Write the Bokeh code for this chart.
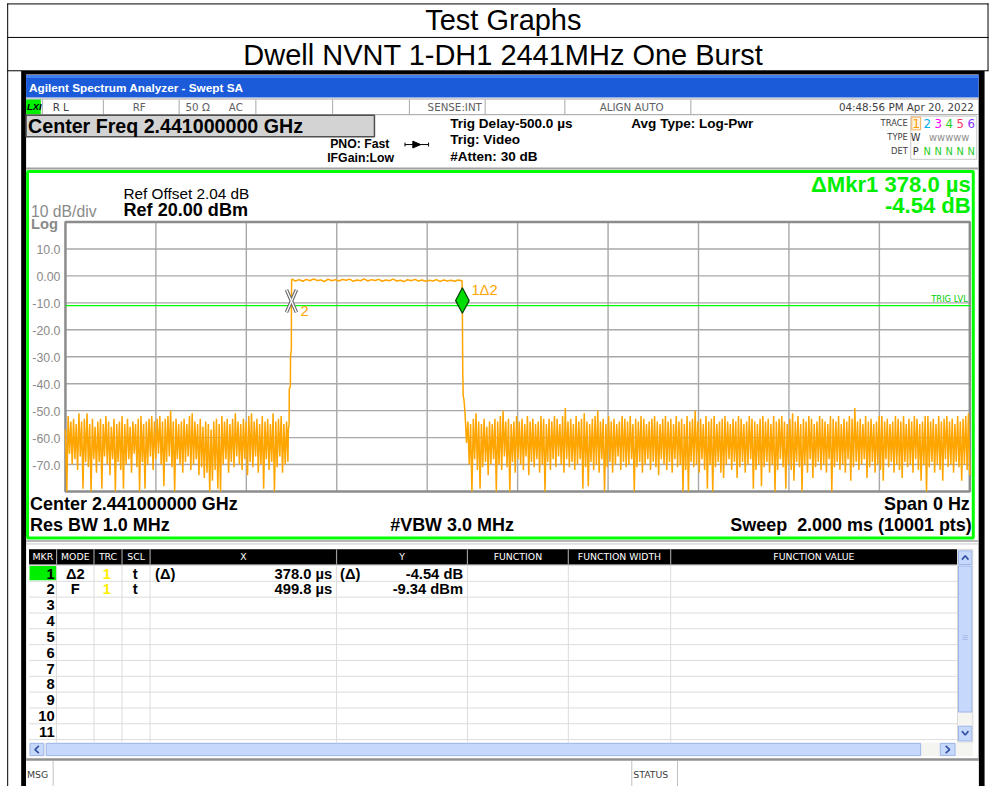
import numpy as np
from bokeh.plotting import figure
from bokeh.models import Range1d
from bokeh.core.properties import value
from bokeh.embed import file_html
from bokeh.resources import INLINE

# ------------------------------------------------------------------ data
PAGE_TITLE = "Test Graphs"
CHART_TITLE = "Dwell NVNT 1-DH1 2441MHz One Burst"

sweep_range_us = [0.0, 2000.0]
level_range_dbm = [-80.0, 20.0]
x_grid_us = [0, 200, 400, 600, 800, 1000, 1200, 1400, 1600, 1800, 2000]
y_grid_dbm = [20, 10, 0, -10, -20, -30, -40, -50, -60, -70, -80]
y_tick_dbm = [10, 0, -10, -20, -30, -40, -50, -60, -70]
y_tick_labels = ["10.0", "0.00", "-10.0", "-20.0", "-30.0", "-40.0", "-50.0", "-60.0", "-70.0"]
trig_level_dbm = -11.0

# noise before the burst (peak / valley per sweep column)
noise_left_span_us = [0.0, 489.0]
noise_left_hi = [-57, -52, -54, -53, -55, -51, -54, -53, -51, -55, -53, -56, -54, -53, -55, -52, -54, -56, -53, -55,
                 -54, -52, -55, -53, -56, -54, -55, -53, -52, -55, -54, -53, -52, -54, -53, -52, -54, -53, -52, -50,
                 -54, -53, -55, -54, -53, -55, -52, -51, -54, -55, -53, -56, -54, -55, -57, -54, -53, -55, -52, -54,
                 -53, -55, -53, -51, -54, -55, -53, -54, -52, -51, -54, -53, -55, -52, -54, -53, -55, -51, -54, -53,
                 -52, -55, -54]
noise_left_lo = [-80, -66, -70, -68, -72, -67, -79, -69, -71, -80, -68, -73, -69, -79, -67, -70, -74, -68, -80, -69,
                 -72, -79, -70, -68, -73, -66, -71, -80, -69, -79, -70, -67, -72, -68, -66, -70, -78, -69, -67, -71,
                 -80, -68, -70, -73, -69, -67, -72, -70, -68, -74, -71, -75, -73, -80, -76, -72, -79, -80, -70, -68,
                 -73, -69, -71, -67, -70, -72, -68, -74, -69, -71, -67, -73, -70, -79, -68, -72, -69, -80, -71, -67,
                 -73, -70, -69]

# rising edge, burst plateau, falling edge
rise_us = [493.0, 494.6, 495.0, 497.4, 497.8, 499.6, 499.8, 500.2]
rise_dbm = [-57, -55, -42, -41, -30, -27, -9.34, -1.5]
plateau_span_us = [500.8, 876.6]
plateau_dbm = [-1.2, -1.9, -1.4, -2.0, -1.3, -1.8, -1.1, -1.7, -1.5, -2.1, -1.2, -1.8, -1.4, -1.9, -1.3, -1.6,
               -1.2, -2.0, -1.5, -1.8, -1.1, -1.9, -1.4, -1.7, -1.3, -2.0, -1.5, -1.8, -1.2, -1.9, -1.6, -2.1,
               -1.4, -1.8, -1.3, -1.9, -1.5, -2.0, -1.6, -1.9, -1.4, -2.1, -1.5, -1.9, -1.6, -2.0, -1.5, -1.8]
fall_us = [877.0, 877.8, 878.6, 879.6, 881.0, 882.6]
fall_dbm = [-1.6, -13.88, -35, -44.7, -45.5, -48.4]

# noise after the burst
noise_right_span_us = [884.0, 1997.0]
noise_right_hi = [-52, -54, -55, -53, -51, -54, -55, -53, -56, -54,
                  -55, -53, -54, -52, -50, -54, -53, -55, -54, -52,
                  -54, -53, -55, -52, -54, -53, -55, -54, -52, -53,
                  -55, -53, -54, -52, -53, -55, -52, -49, -54, -53,
                  -55, -52, -54, -53, -51, -54, -55, -53, -52, -50,
                  -54, -53, -55, -52, -54, -53, -55, -54, -52, -53,
                  -54, -52, -55, -53, -54, -52, -53, -55, -54, -53,
                  -52, -54, -55, -53, -52, -54, -53, -55, -52, -54,
                  -53, -55, -52, -54, -53, -50, -54, -53, -55, -52,
                  -54, -53, -52, -55, -54, -53, -52, -54, -55, -53,
                  -54, -52, -53, -55, -54, -52, -53, -54, -55, -53,
                  -52, -54, -53, -55, -52, -54, -53, -52, -54, -55,
                  -53, -51, -54, -52, -55, -53, -54, -52, -53, -55,
                  -54, -52, -53, -54, -55, -52, -53, -54, -52, -55,
                  -53, -54, -52, -53, -49, -54, -53, -55, -52, -54,
                  -53, -55, -54, -52, -52, -54, -53, -55, -54, -52,
                  -53, -54, -52, -55, -53, -54, -52, -53, -55, -54,
                  -52, -52, -54, -53, -55, -52, -54, -53, -52, -54,
                  -53, -55, -52, -54, -53, -52, -51]
noise_right_lo = [-62, -70, -80, -68, -72, -79, -71, -69, -74, -70,
                  -68, -80, -70, -72, -67, -71, -80, -69, -73, -68,
                  -70, -72, -67, -74, -69, -71, -68, -73, -70, -80,
                  -69, -72, -68, -71, -67, -70, -73, -68, -71, -69,
                  -72, -70, -68, -79, -71, -78, -69, -72, -70, -73,
                  -68, -80, -71, -69, -73, -70, -67, -72, -69, -71,
                  -70, -68, -80, -71, -69, -73, -70, -68, -72, -69,
                  -71, -74, -68, -70, -72, -69, -73, -68, -71, -70,
                  -80, -72, -80, -69, -71, -70, -73, -68, -72, -79,
                  -70, -80, -71, -69, -73, -75, -70, -68, -72, -69,
                  -75, -71, -69, -73, -70, -68, -79, -72, -70, -78,
                  -71, -69, -73, -70, -80, -72, -68, -71, -79, -70,
                  -72, -76, -69, -71, -80, -70, -73, -68, -75, -71,
                  -69, -72, -70, -73, -68, -80, -71, -69, -72, -70,
                  -73, -68, -76, -71, -69, -72, -70, -68, -75, -71,
                  -69, -73, -70, -72, -76, -68, -71, -69, -73, -70,
                  -72, -75, -69, -71, -70, -73, -68, -72, -76, -70,
                  -80, -71, -69, -73, -70, -72, -76, -68, -71, -70,
                  -73, -69, -71, -76, -70, -72, -74]

marker2_us, marker2_dbm = 499.8, -9.34
marker1_us, marker1_dbm = 877.8, -13.88

status_labels = ["R L", "RF", "50 \u03a9", "AC", "SENSE:INT", "ALIGN AUTO"]
timestamp = "04:48:56 PM Apr 20, 2022"
table_headers = ["MKR", "MODE", "TRC", "SCL", "X", "Y", "FUNCTION", "FUNCTION WIDTH", "FUNCTION VALUE"]
mkr_numbers = [str(i) for i in range(1, 12)]
mkr_mode = ["\u03942", "F"]
mkr_trc = ["1", "1"]
mkr_scl = ["t", "t"]
mkr_x_prefix = ["(\u0394)", ""]
mkr_x = ["378.0 \u00b5s", "499.8 \u00b5s"]
mkr_y_prefix = ["(\u0394)", ""]
mkr_y = ["-4.54 dB", "-9.34 dBm"]

# ------------------------------------------------------------------ canvas
W, H = 989, 786
FS = 0.982  # canvas / page scale for font sizes
p = figure(width=W, height=H, x_range=Range1d(0, 1005), y_range=Range1d(802, 0),
           output_backend="svg", toolbar_location=None, min_border=0,
           x_axis_location=None, y_axis_location=None)
p.grid.visible = False
p.outline_line_color = None
p.background_fill_color = "white"
p.border_fill_color = "white"

ARIAL = "Liberation Sans"
DV = "DejaVu Sans"


def T(x, y, s, size, color="black", bold=False, align="left", font=ARIAL, style=None):
    st = style if style else ("bold" if bold else "normal")
    p.text(x=[x], y=[y], text=[s], text_font=value(font), text_font_size=value(f"{size * FS:.2f}px"),
           text_color=color, text_align=align, text_baseline="middle", text_font_style=st)


def R(l, r, t, b, fill, line=None, lw=1.0):
    p.quad(left=[l], right=[r], top=[t], bottom=[b], fill_color=fill,
           line_color=line, line_width=lw)


def L(x0, y0, x1, y1, color, lw=1.0):
    p.segment(x0=[x0], y0=[y0], x1=[x1], y1=[y1], line_color=color, line_width=lw)


# page table
L(7, 3.5, 1004, 3.5, "black", 1)
L(7, 37.7, 1004, 37.7, "black", 1)
L(7, 71.7, 1004, 71.7, "black", 1)
L(7.3, 3, 7.3, 802, "black", 1)
L(1003.5, 3, 1003.5, 72, "black", 1)
T(511, 20.2, PAGE_TITLE, 29.5, align="center")
T(511, 55.2, CHART_TITLE, 29.5, align="center")

# screenshot frame
R(21, 1000, 72, 802, "black", None)
R(26, 994, 75.5, 802, "white", None)

# title bar
R(26, 994, 76, 99, "#1b5bd9", None)
R(26, 994, 76, 79, "#3f7ff0", None)
T(29, 88.7, "Agilent Spectrum Analyzer - Swept SA", 12, "white", bold=True)

# status row
L(26, 100.5, 994, 100.5, "#a0a0a0", 1)
L(26, 116.5, 994, 116.5, "#a0a0a0", 1)
R(26, 41, 101, 116, "#00ee00", None)
T(27, 108.3, "LXI", 9.5, "black", style="bold italic")
for xd in [42, 104, 181, 259, 337, 415, 492, 573, 701]:
    L(xd + 0.5, 101, xd + 0.5, 116, "#a8a8a8", 1)
T(53, 108.3, status_labels[0], 10.5, "#404040", font=DV)
T(141, 108.3, status_labels[1], 10.5, "#606060", font=DV, align="center")
T(188, 108.3, status_labels[2], 10.5, "#606060", font=DV)
T(232, 108.3, status_labels[3], 10.5, "#606060", font=DV)
T(434, 108.3, status_labels[4], 10.5, "#606060", font=DV)
T(609, 108.3, status_labels[5], 10.5, "#606060", font=DV)
T(989, 108.3, timestamp, 10.5, "#404040", font=DV, align="right")

# center freq box and settings
R(26, 380, 117, 139, "#d3d3d3", "#505050", 1.5)
T(28, 128, "Center Freq 2.441000000 GHz", 20, bold=True)
T(335, 146.7, "PNO: Fast", 12.5, bold=True)
T(332, 160.7, "IFGain:Low", 12.5, bold=True)
L(411, 147, 435, 147, "black", 1)
L(411, 145, 411, 149, "black", 1)
L(435, 145, 435, 149, "black", 1)
p.patch(x=[419, 427, 419], y=[143.5, 147, 150.5], fill_color="black", line_color="black")
T(457, 126, "Trig Delay-500.0 \u00b5s", 13.8, bold=True)
T(457, 142.3, "Trig: Video", 13.8, bold=True)
T(457, 158.7, "#Atten: 30 dB", 13.8, bold=True)
T(641, 126, "Avg Type: Log-Pwr", 13.8, bold=True)

# trace legend block
T(922, 125.5, "TRACE", 8.5, "#404040", font=DV, align="right")
T(922, 139.3, "TYPE", 8.5, "#404040", font=DV, align="right")
T(922, 153.3, "DET", 8.5, "#404040", font=DV, align="right")
R(925, 992, 118, 162, "white", "#c8c8c8", 1)
R(926, 935, 119, 132, "#fff4e0", "#f0b060", 1)
trace_cols = ["#ff9900", "#00b0f0", "#ff00ff", "#22cc22", "#ff3366", "#8833ff"]
for i, c in enumerate(trace_cols):
    T(930.5 + 11.2 * i, 126, str(i + 1), 12, c, align="center", font=DV)
T(930, 140, "W", 10, "#303030", align="center", font=DV)
T(964, 140, "\u1d21\u1d21\u1d21\u1d21\u1d21", 10, "#909090", align="center", font=DV)
T(930, 154, "P", 10, "#303030", align="center", font=DV)
for i in range(5):
    T(941.7 + 11.2 * i, 154, "N", 10, "#22cc22", align="center", font=DV)

# display frame
L(26, 171.5, 994, 171.5, "#a0a0a0", 2)
R(27.5, 988.5, 174.5, 548.5, None, "#00ff00", 3)

T(125, 197.2, "Ref Offset 2.04 dB", 15.6)
T(125, 214, "Ref 20.00 dBm", 18.4, bold=True)
T(31, 215.7, "10 dB/div", 16, "#8a8a8a")
T(31, 228, "Log", 15, "#8a8a8a", bold=True)
T(986, 187.5, "\u0394Mkr1 378.0 \u00b5s", 22.5, "#00ee00", bold=True, align="right")
T(986, 209, "-4.54 dB", 22.5, "#00ee00", bold=True, align="right")

T(30, 514, "Center 2.441000000 GHz", 18.3, bold=True)
T(30, 535, "Res BW 1.0 MHz", 18.3, bold=True)
T(396, 535, "#VBW 3.0 MHz", 18.3, bold=True)
T(985, 514, "Span 0 Hz", 18.3, bold=True, align="right")
T(987, 535, "Sweep\u00a0 2.000 ms (10001 pts)", 18.3, bold=True, align="right")

# ------------------------------------------------------------------ trace area (data coordinates)
sub = p.subplot(x_source=Range1d(*sweep_range_us), y_source=Range1d(*level_range_dbm),
                x_target=Range1d(66, 985), y_target=Range1d(501, 226))

sub.segment(x0=x_grid_us[1:-1], y0=[level_range_dbm[0]] * 9, x1=x_grid_us[1:-1], y1=[level_range_dbm[1]] * 9,
            line_color="#a8a8a8", line_width=1.4)
sub.segment(x0=[sweep_range_us[0]] * 9, y0=y_grid_dbm[1:-1], x1=[sweep_range_us[1]] * 9, y1=y_grid_dbm[1:-1],
            line_color="#a8a8a8", line_width=1.4)
sub.quad(left=[sweep_range_us[0]], right=[sweep_range_us[1]], bottom=[level_range_dbm[0]], top=[level_range_dbm[1]],
         fill_color=None, line_color="#8c8c8c", line_width=2.5)
sub.text(x=[sweep_range_us[0]] * len(y_tick_dbm), y=y_tick_dbm, text=y_tick_labels, x_offset=-5, y_offset=0.5,
         text_align="right", text_baseline="middle", text_font=value(ARIAL),
         text_font_size=value(f"{12.6 * FS:.2f}px"), text_color="#8a8a8a")

# trigger level
sub.segment(x0=[sweep_range_us[0]], y0=[trig_level_dbm], x1=[sweep_range_us[1]], y1=[trig_level_dbm],
            line_color="#00ff00", line_width=1.2)
sub.text(x=[sweep_range_us[1]], y=[trig_level_dbm], text=["TRIG LVL"], x_offset=-2, y_offset=-6.3,
         text_align="right", text_baseline="middle", text_font=value(DV),
         text_font_size=value(f"{8.5 * FS:.2f}px"), text_color="#00cc00")


def zig(span, hi, lo, step=3.0):
    n = min(len(hi), len(lo))
    t = np.linspace(span[0], span[1], n)
    xs = np.empty(2 * n)
    ys = np.empty(2 * n)
    xs[0::2] = t
    xs[1::2] = t + step
    ys[0::2] = hi[:n]
    ys[1::2] = lo[:n]
    return xs, ys


xl, yl = zig(noise_left_span_us, noise_left_hi, noise_left_lo)
xr, yr = zig(noise_right_span_us, noise_right_hi, noise_right_lo)
tp = np.linspace(plateau_span_us[0], plateau_span_us[1], len(plateau_dbm))
trace_x = np.concatenate([xl, rise_us, tp, fall_us, xr])
trace_y = np.concatenate([yl, rise_dbm, plateau_dbm, fall_dbm, yr])
sub.line(x=trace_x, y=trace_y, line_color="#ffa500", line_width=1.5)

# marker 2 (fixed) : outlined X
dx, dy = 11.0, 4.2
sub.segment(x0=[marker2_us - dx, marker2_us - dx], y0=[marker2_dbm + dy, marker2_dbm - dy],
            x1=[marker2_us + dx, marker2_us + dx], y1=[marker2_dbm - dy, marker2_dbm + dy],
            line_color="#6a6a6a", line_width=3.6)
sub.segment(x0=[marker2_us - dx, marker2_us - dx], y0=[marker2_dbm + dy, marker2_dbm - dy],
            x1=[marker2_us + dx, marker2_us + dx], y1=[marker2_dbm - dy, marker2_dbm + dy],
            line_color="white", line_width=1.3)
sub.text(x=[marker2_us], y=[marker2_dbm], text=["2"], x_offset=9, y_offset=9.5, text_align="left",
         text_baseline="middle", text_font=value(ARIAL), text_font_size=value(f"{15 * FS:.2f}px"),
         text_color="#ffa500")

# marker 1 (delta) : green diamond above the point
sub.patch(x=[marker1_us, marker1_us + 15, marker1_us, marker1_us - 15],
          y=[marker1_dbm, marker1_dbm + 4.7, marker1_dbm + 9.45, marker1_dbm + 4.7],
          fill_color="#00dd00", line_color="#004400", line_width=1.2)
sub.text(x=[marker1_us], y=[marker1_dbm], text=["1\u03942"], x_offset=9, y_offset=-23.5, text_align="left",
         text_baseline="middle", text_font=value(ARIAL), text_font_size=value(f"{15 * FS:.2f}px"),
         text_color="#ffa500")

# ------------------------------------------------------------------ marker table
L(26, 551.5, 994, 551.5, "#a0a0a0", 1.5)
L(26, 554.5, 994, 554.5, "#c8c8c8", 1)
col_edges = [29, 57, 95, 123.5, 152, 341.5, 474.5, 577, 681, 972]
R(29, 972, 560, 575.5, "black", None)
row_top = 576.0
row_h = 16.15
for k in range(12):
    yk = row_top + row_h * k
    L(29, yk + 0.5, 972, yk + 0.5, "#dcdcdc", 1)
for xe in col_edges[1:-1]:
    L(xe, 576, xe, 757, "#dcdcdc", 1)
for xe in col_edges[1:-1]:
    L(xe, 560, xe, 575.5, "#9a9a9a", 1.2)
for i, h in enumerate(table_headers):
    cx = (col_edges[i] + col_edges[i + 1]) / 2
    T(cx, 567.5, h, 9.5, "white", align="center", font=DV)
R(29.5, 56.5, 577, 591.5, "#00ee00", None)
for k, s in enumerate(mkr_numbers):
    T(55, 584.7 + row_h * k, s, 15, bold=True, align="right")
for k in range(len(mkr_mode)):
    yb = 584.7 + row_h * k
    T(76, yb, mkr_mode[k], 15, bold=True, align="center")
    T(108, yb, mkr_trc[k], 15, "#ffee00", bold=True, align="center")
    T(137, yb, mkr_scl[k], 15, bold=True, align="center")
    if mkr_x_prefix[k]:
        T(157, yb, mkr_x_prefix[k], 15, bold=True)
    T(337, yb, mkr_x[k], 15, bold=True, align="right")
    if mkr_y_prefix[k]:
        T(345, yb, mkr_y_prefix[k], 15, bold=True)
    T(470, yb, mkr_y[k], 15, bold=True, align="right")

# vertical scrollbar
R(972.5, 988, 560, 757, "#f4f4f0", "#d8d8d8", 1)
R(973.5, 987, 561.5, 575.5, "#c6d8fb", "#9db6ea", 1)
R(973.5, 987, 577, 726, "#c6d8fb", "#9db6ea", 1)
R(973.5, 987, 740.5, 755.5, "#c6d8fb", "#9db6ea", 1)
p.line(x=[977, 980.3, 983.6], y=[570.5, 566.5, 570.5], line_color="#3050a0", line_width=1.6)
p.line(x=[977, 980.3, 983.6], y=[745.5, 749.5, 745.5], line_color="#3050a0", line_width=1.6)
for yy in [648, 650, 652]:
    L(977.5, yy, 983, yy, "#a8bde8", 1)

# horizontal scrollbar
R(29, 988, 757, 771, "#f4f4f0", None)
R(30, 44, 758, 770.5, "#c6d8fb", "#9db6ea", 1)
R(46.5, 935, 758, 770.5, "#c6d8fb", "#9db6ea", 1)
R(955, 970, 758, 770.5, "#c6d8fb", "#9db6ea", 1)
p.line(x=[39, 35, 39], y=[760.5, 764.3, 768], line_color="#3050a0", line_width=1.6)
p.line(x=[960.5, 964.5, 960.5], y=[760.5, 764.3, 768], line_color="#3050a0", line_width=1.6)

# message / status bar
L(26, 774.5, 994, 774.5, "#909090", 2.5)
R(26, 994, 776, 802, "white", None)
L(53.5, 776, 53.5, 802, "#c0c0c0", 1)
L(641.5, 776, 641.5, 802, "#c0c0c0", 1)
L(688, 776, 688, 802, "#c0c0c0", 1)
T(27, 789.4, "MSG", 9.5, "#404040", font=DV)
T(643, 789.4, "STATUS", 9.5, "#404040", font=DV)

open("out.html", "w").write(file_html(p, INLINE))
